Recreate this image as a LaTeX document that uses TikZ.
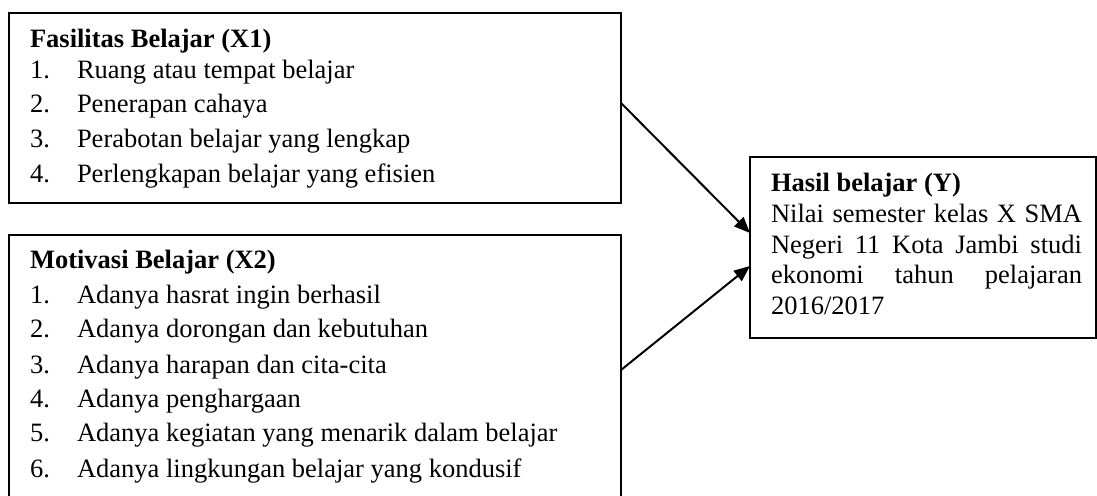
\documentclass[tikz,border=0pt]{standalone}
\usepackage{fontspec}
\setmainfont{Liberation Serif}
\usetikzlibrary{arrows.meta}
\begin{document}
\begin{tikzpicture}[x=0.5pt,y=-0.5pt,
  box/.style={draw,line width=1pt,inner sep=0pt,outer sep=0pt,anchor=north west},
  txt/.style={anchor=base west,inner sep=0pt,outer sep=0pt,font=\fontsize{13.25pt}{15.5pt}\selectfont},
  ttl/.style={anchor=base west,inner sep=0pt,outer sep=0pt,font=\fontsize{13.25pt}{15.5pt}\selectfont\bfseries},
  arr/.style={line width=1pt,-{Triangle[length=8pt,width=6.5pt]}}]
\useasboundingbox (0,0) rectangle (1097,496);
\clip (0,0) rectangle (1097,496);
% boxes
\node[box,minimum width=306pt,minimum height=95pt] (b1) at (9,13) {};
\node[box,minimum width=306pt,minimum height=132.5pt] (b2) at (9,235) {};
\node[box,minimum width=173pt,minimum height=90.5pt] (y) at (750,157) {};
% box 1 text
\node[ttl] (t1) at (30,47.5) {Fasilitas Belajar (X1)};
\node[txt] (n11) at (30,78.5) {1.};
\node[txt] (i11) at (77,78.5) {Ruang atau tempat belajar};
\node[txt] (n12) at (30,113) {2.};
\node[txt] (i12) at (77,113) {Penerapan cahaya};
\node[txt] (n13) at (30,148) {3.};
\node[txt] (i13) at (77,148) {Perabotan belajar yang lengkap};
\node[txt] (n14) at (30,183) {4.};
\node[txt] (i14) at (77,183) {Perlengkapan belajar yang efisien};
% box 2 text
\node[ttl] (t2) at (30,269) {Motivasi Belajar (X2)};
\node[txt] (n21) at (30,303.5) {1.};
\node[txt] (i21) at (77,303.5) {Adanya hasrat ingin berhasil};
\node[txt] (n22) at (30,338) {2.};
\node[txt] (i22) at (77,338) {Adanya dorongan dan kebutuhan};
\node[txt] (n23) at (30,373) {3.};
\node[txt] (i23) at (77,373) {Adanya harapan dan cita-cita};
\node[txt] (n24) at (30,407.5) {4.};
\node[txt] (i24) at (77,407.5) {Adanya penghargaan};
\node[txt] (n25) at (30,442) {5.};
\node[txt] (i25) at (77,442) {Adanya kegiatan yang menarik dalam belajar};
\node[txt] (n26) at (30,477) {6.};
\node[txt] (i26) at (77,477) {Adanya lingkungan belajar yang kondusif};
% box Y text
\node[ttl] (ty) at (771,192) {Hasil belajar (Y)};
\node[txt] (y1) at (771,223) {\makebox[155.5pt][s]{Nilai semester kelas X SMA}};
\node[txt] (y2) at (771,254) {\makebox[155.5pt][s]{Negeri 11 Kota Jambi studi}};
\node[txt] (y3) at (771,284) {\makebox[155.5pt][s]{ekonomi tahun pelajaran}};
\node[txt] (y4) at (771,315) {2016/2017};
% arrows
\draw[arr] ([yshift=2.5pt]b1.east) -- ([yshift=7.25pt]y.west);
\draw[arr] ([yshift=-1.25pt]b2.east) -- ([yshift=-9.25pt]y.west);
\end{tikzpicture}
\end{document}
